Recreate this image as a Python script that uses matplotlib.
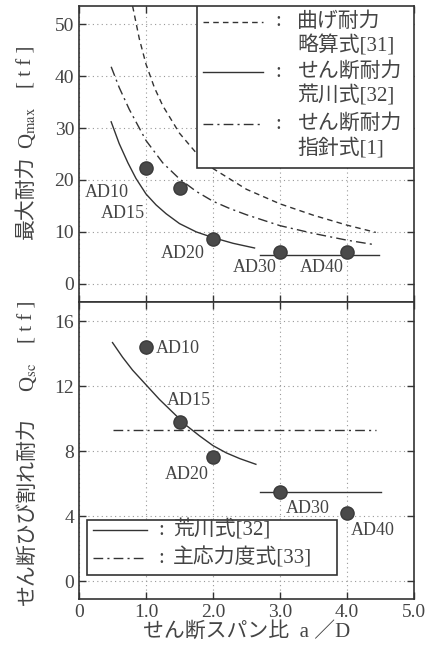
import matplotlib
matplotlib.use("Agg")
import matplotlib.pyplot as plt
from matplotlib.patches import Rectangle
from matplotlib.lines import Line2D

plt.rcParams['font.family'] = ['Liberation Serif', 'Noto Sans CJK JP']
plt.rcParams['mathtext.fontset'] = 'stix'

INK = '#333333'
TXT = '#444444'

# specimens
specimens = ["AD10", "AD15", "AD20", "AD30", "AD40"]
span_ratio = [1.0, 1.5, 2.0, 3.0, 4.0]
q_max = [22.4, 18.4, 8.6, 6.1, 6.1]
q_sc = [14.4, 9.8, 7.65, 5.5, 4.2]

# upper panel curves
bend_x = [0.80, 0.9, 1.0, 1.125, 1.25, 1.5, 1.75, 2.0, 2.5, 3.0, 3.5, 4.0, 4.43]
bend_y = [53.5, 47.2, 42.3, 37.8, 34.3, 29.0, 25.2, 22.2, 18.2, 15.4, 13.2, 11.3, 9.9]
arakawa_x = [0.48, 0.6, 0.73, 0.85, 1.0, 1.15, 1.3, 1.5, 1.75, 2.0, 2.3, 2.62]
arakawa_y = [31.2, 27.0, 23.3, 20.3, 17.3, 15.2, 13.5, 11.6, 10.0, 8.9, 7.8, 6.9]
arakawa_flat_x = [2.7, 4.48]
arakawa_flat_y = [5.5, 5.5]
guide_x = [0.48, 0.6, 0.75, 1.0, 1.25, 1.5, 1.75, 2.0, 2.25, 2.5, 3.0, 3.5, 4.0, 4.43]
guide_y = [41.8, 37.8, 33.6, 27.6, 23.3, 20.2, 17.8, 15.9, 14.5, 13.3, 11.2, 9.7, 8.4, 7.5]

# lower panel curves
crack_x = [0.5, 0.65, 0.8, 1.0, 1.2, 1.4, 1.6, 1.8, 2.0, 2.2, 2.4, 2.64]
crack_y = [14.7, 13.8, 13.0, 12.1, 11.2, 10.4, 9.6, 8.95, 8.35, 7.9, 7.55, 7.2]
crack_flat_x = [2.7, 4.5]
crack_flat_y = [5.5, 5.5]
principal_x = [0.5, 4.43]
principal_y = [9.3, 9.3]

# label offsets in pixels (dx, dy)
top_offsets = [(-39, -25), (-57, -25), (-30, -14), (-25, -15), (-25, -15)]
bot_offsets = [(32, -1), (9, 22), (-26, -18), (28, -17), (26, -18)]

fig = plt.figure(figsize=(4.4, 6.52), dpi=100)
ax1 = fig.add_axes([79 / 440, 1 - 302 / 652, 335 / 440, 296 / 652])
ax2 = fig.add_axes([79 / 440, 1 - 599 / 652, 335 / 440, 297 / 652])

dash = (0, (4, 3))
dashdot = (0, (7, 3, 1.5, 3))

for ax in (ax1, ax2):
    ax.set_xlim(0, 5)
    ax.set_xticks([0, 1, 2, 3, 4, 5])
    ax.grid(True, linestyle=(0, (1, 3)), color='#999999', linewidth=0.8)
    ax.tick_params(direction='in', length=5, width=1, color=INK,
                   top=True, right=True, labelsize=14, labelcolor=TXT)
    for s in ax.spines.values():
        s.set_color(INK)
        s.set_linewidth(1.2)


def vlabel(ax, x, pieces):
    # rotated axis title built from pieces so CJK and mathtext both render
    for text, y in pieces:
        ax.text(x, y, text, transform=ax.transAxes, rotation=90,
                ha='center', va='center', fontsize=15, color=TXT)


# upper panel
ax1.set_ylim(-3.5, 53.5)
ax1.set_yticks([0, 10, 20, 30, 40, 50])
ax1.tick_params(labelbottom=False)
ax1.plot(bend_x, bend_y, color=INK, lw=1.0, linestyle=dash)
ax1.plot(arakawa_x, arakawa_y, color=INK, lw=1.0)
ax1.plot(arakawa_flat_x, arakawa_flat_y, color=INK, lw=1.0)
ax1.plot(guide_x, guide_y, color=INK, lw=1.0, linestyle=dashdot)
ax1.plot(span_ratio, q_max, 'o', color='#4a4a4a', markersize=9.5,
         markeredgecolor='#3a3a3a', zorder=5)
for name, x, y, (dx, dy) in zip(specimens, span_ratio, q_max, top_offsets):
    ax1.annotate(name, (x, y), xytext=(dx, dy), textcoords='offset pixels',
                 ha='center', va='center', fontsize=13, color=TXT)
vlabel(ax1, -0.155, [('最大耐力', 0.355), ('Q$_{\\mathrm{max}}$', 0.588),
                     ('[ t f ]', 0.794)])

# upper legend (drawn by hand to keep the two-line labels)
ax1.add_patch(Rectangle((0.352, 0.453), 0.648, 0.547, transform=ax1.transAxes,
                        facecolor='white', edgecolor=INK, lw=1.2, zorder=6))
leg1 = [(dash, 0.946, '曲げ耐力', '略算式[31]'),
        ('-', 0.777, 'せん断耐力', '荒川式[32]'),
        (dashdot, 0.601, 'せん断耐力', '指針式[1]')]
for ls, yy, l1, l2 in leg1:
    ax1.add_line(Line2D([0.37, 0.549], [yy, yy], transform=ax1.transAxes,
                        color=INK, lw=1.0, linestyle=ls, zorder=7))
    ax1.text(0.594, yy, ':', transform=ax1.transAxes, ha='center', va='center',
             fontsize=15, color=TXT, zorder=7)
    ax1.text(0.651, yy, l1, transform=ax1.transAxes, ha='left', va='center',
             fontsize=15, color=TXT, zorder=7)
    ax1.text(0.651, yy - 0.08, l2, transform=ax1.transAxes, ha='left', va='center',
             fontsize=15, color=TXT, zorder=7)

# lower panel
ax2.set_ylim(-1.1, 17.2)
ax2.set_yticks([0, 4, 8, 12, 16])
ax2.set_xticklabels(['0', '1.0', '2.0', '3.0', '4.0', '5.0'])
ax2.plot(crack_x, crack_y, color=INK, lw=1.0)
ax2.plot(crack_flat_x, crack_flat_y, color=INK, lw=1.0)
ax2.plot(principal_x, principal_y, color=INK, lw=1.0, linestyle=dashdot)
ax2.plot(span_ratio, q_sc, 'o', color='#4a4a4a', markersize=9.5,
         markeredgecolor='#3a3a3a', zorder=5)
for name, x, y, (dx, dy) in zip(specimens, span_ratio, q_sc, bot_offsets):
    ax2.annotate(name, (x, y), xytext=(dx, dy), textcoords='offset pixels',
                 ha='center', va='center', fontsize=13, color=TXT)
vlabel(ax2, -0.152, [('せん断ひび割れ耐力', 0.293), ('Q$_{\\mathrm{sc}}$', 0.747),
                     ('[ t f ]', 0.933)])
ax2.set_xlabel('せん断スパン比  a ／D', fontsize=15, color=TXT, labelpad=1)

ax2.add_patch(Rectangle((0.024, 0.081), 0.746, 0.185, transform=ax2.transAxes,
                        facecolor='white', edgecolor=INK, lw=1.2, zorder=6))
leg2 = [('-', 0.232, '荒川式[32]'), (dashdot, 0.138, '主応力度式[33]')]
for ls, yy, lab in leg2:
    ax2.add_line(Line2D([0.042, 0.203], [yy, yy], transform=ax2.transAxes,
                        color=INK, lw=1.0, linestyle=ls, zorder=7))
    ax2.text(0.245, yy, ':', transform=ax2.transAxes, ha='center', va='center',
             fontsize=15, color=TXT, zorder=7)
    ax2.text(0.28, yy, lab, transform=ax2.transAxes, ha='left', va='center',
             fontsize=15, color=TXT, zorder=7)

fig.savefig('out.png', dpi=100)
